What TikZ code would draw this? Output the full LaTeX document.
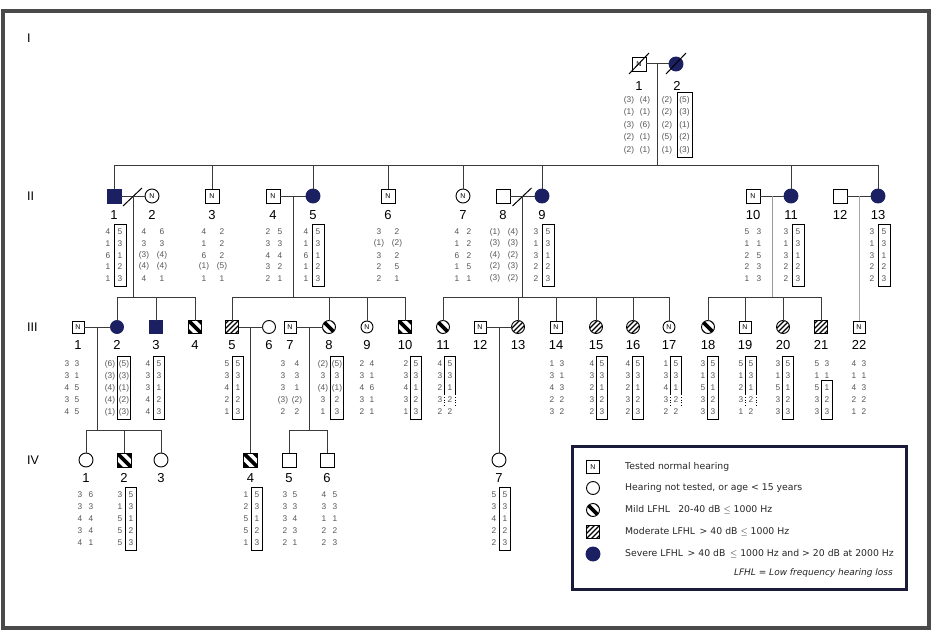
\documentclass[tikz,border=0pt]{standalone}
\usepackage{fontspec}
\setmainfont{Liberation Sans}
\newfontfamily\legfont{DejaVu Sans}
\usetikzlibrary{calc}
\definecolor{sevc}{HTML}{1B2062}
\definecolor{numc}{HTML}{555555}
\definecolor{linec}{HTML}{3A3A3A}
\definecolor{framec}{HTML}{4A4A4A}
\definecolor{legc}{HTML}{1A1A3A}
\newcommand\pp[1]{(#1)}
\newcommand\hdy{12}
% #1 name, #2 xl, #3 xr, #4 y0, #5 list
\newcommand\haplo[5]{%
  \foreach[count=\i] \a/\b in {#5}{%
    \node[num] (#1a\i) at (#2,{#4+(\i-1)*\hdy}) {\a};
    \node[num] (#1b\i) at (#3,{#4+(\i-1)*\hdy}) {\b};}}
% #1 name, #2 first row, #3 last row, #4 half width
\newcommand\hapbox[4]{\draw[hbox] ($(#1b#2)+(-#4,-7.5)$) rectangle ($(#1b#3)+(#4,7.5)$);}
% open box, rows 1-3 solid, row 4 dotted
\newcommand\hapopen[2]{%
  \draw[hbox] ($(#1b3)+(-#2,6)$) -- ($(#1b1)+(-#2,-7.5)$) -- ($(#1b1)+(#2,-7.5)$) -- ($(#1b3)+(#2,6)$);
  \draw[hbox,dotted] ($(#1b3)+(-#2,6)$) -- ($(#1b4)+(-#2,6)$);
  \draw[hbox,dotted] ($(#1b3)+(#2,6)$) -- ($(#1b4)+(#2,6)$);}
\tikzset{
  sym/.style={draw=black, line width=0.9pt, inner sep=0pt, outer sep=0pt, font=\fontsize{7}{7}\selectfont},
  sq/.style={sym, rectangle, minimum size=#1}, sq/.default=14,
  ci/.style={sym, circle, minimum size=#1}, ci/.default=14,
  sev/.style={fill=sevc, draw=sevc},
  mild/.style={path picture={\begin{scope}[shift={(path picture bounding box.center)}]
      \foreach \o/\w in {0/3.6,5.5/4,-5.5/4} \draw[line width=\w pt] (-12+\o,-12-\o) -- (12+\o,12-\o);
    \end{scope}}},
  mod/.style={path picture={\begin{scope}[shift={(path picture bounding box.center)}]
      \foreach \o in {-10,-7.5,...,10} \draw[line width=1.3pt] (-12+\o,12+\o) -- (12+\o,-12+\o);
    \end{scope}}},
  lab/.style={font=\fontsize{13}{13}\selectfont, inner sep=0pt},
  gen/.style={font=\fontsize{12.5}{12.5}\selectfont, inner sep=0pt, anchor=west},
  num/.style={font=\fontsize{8.3}{8.3}\selectfont, text=numc, inner sep=0pt},
  conn/.style={draw=linec, line width=1pt},
  hbox/.style={draw=black, line width=0.8pt},
  leg/.style={font=\legfont\fontsize{9.3}{10}\selectfont, text=black!85, inner sep=0pt, anchor=west},
}
\begin{document}
\begin{tikzpicture}[x=1pt,y=-1pt]
\useasboundingbox (0,0) rectangle (932,634);
\fill[white] (0,0) rectangle (932,634);
\draw[framec,line width=4pt] (3,11) rectangle (929,628);

% generation labels
\node[gen] (gI) at (27,38) {I};
\node[gen] (gII) at (27,196) {II};
\node[gen] (gIII) at (27,327) {III};
\node[gen] (gIV) at (27,460) {IV};

% level coordinates
\coordinate (s2) at (0,165);
\coordinate (s3) at (0,297);
\coordinate (s4) at (0,430);

% ---------------- Generation I
\node[sq] (I1) at (639,64) {N};
\node[ci,sev] (I2) at (676,64) {};
\draw[line width=1pt] ($(I1)+(-10,10)$) -- ($(I1)+(10,-11)$);
\draw[line width=1pt] ($(I2)+(-10,10)$) -- ($(I2)+(10,-11)$);
\draw[conn] (I1) -- (I2);
\coordinate (dI) at ($(I1)!0.5!(I2)$);
\draw[conn] (dI) -- (dI |- s2);
\node[lab] (lI1) at (639,86) {1};
\node[lab] (lI2) at (677,86) {2};
\renewcommand\hdy{12.5}
\haplo{hIa}{629}{645}{100}{\pp3/\pp4,\pp1/\pp1,\pp3/\pp6,\pp2/\pp1,\pp2/\pp1}
\haplo{hIb}{667}{684.5}{100}{\pp2/\pp5,\pp2/\pp3,\pp2/\pp1,\pp5/\pp2,\pp1/\pp3}
\hapbox{hIb}{1}{5}{7.5}

% ---------------- Generation II
\node[sq,sev] (II1) at (114,196) {};
\node[ci] (II2) at (152,196) {N};
\node[sq] (II3) at (212,196) {N};
\node[sq] (II4) at (273,196) {N};
\node[ci,sev] (II5) at (313,196) {};
\node[sq] (II6) at (388,196) {N};
\node[ci] (II7) at (463,196) {N};
\node[sq] (II8) at (503,196) {};
\node[ci,sev] (II9) at (542,196) {};
\node[sq] (II10) at (753,196) {N};
\node[ci,sev] (II11) at (791,196) {};
\node[sq] (II12) at (840,196) {};
\node[ci,sev] (II13) at (878,196) {};
\draw[conn] (II1 |- s2) -- (II13 |- s2);
\foreach \n in {II1,II3,II5,II6,II7,II9,II11,II13} \draw[conn] (\n |- s2) -- (\n.north);
\foreach \n/\t in {1/1,2/2,3/3,4/4,5/5,6/6,7/7,8/8,9/9,10/10,11/11,12/12,13/13}
  \node[lab] (lII\n) at ($(II\n)+(0,19)$) {\t};
% couples and descents
\draw[conn] (II1) -- (II2);
\coordinate (dIIa) at ($(II1)!0.5!(II2)$);
\draw[line width=1pt] ($(dIIa)+(-10,10)$) -- ($(dIIa)+(9,-8)$);
\draw[conn] (II4) -- (II5);
\coordinate (dIIb) at ($(II4)!0.5!(II5)$);
\draw[conn] (II8) -- (II9);
\coordinate (dIIc) at ($(II8)!0.5!(II9)$);
\draw[line width=1pt] ($(dIIc)+(-10,10)$) -- ($(dIIc)+(9,-8)$);
\draw[conn] (II10) -- (II11);
\coordinate (dIId) at ($(II10)!0.5!(II11)$);
\draw[conn] (II12) -- (II13);
\coordinate (dIIe) at ($(II12)!0.5!(II13)$);
\foreach \d in {dIIa,dIIb,dIIc} \draw[conn] (\d) -- (\d |- s3);
\draw[draw=gray!80,line width=1pt] (dIId) -- (dIId |- s3);

\renewcommand\hdy{11.6}
\haplo{hII1}{108}{120}{232}{4/5,1/3,6/1,1/2,1/3}
\hapbox{hII1}{1}{5}{6}
\haplo{hII2}{144}{162}{232}{4/6,3/3,\pp3/\pp4,\pp4/\pp4,4/1}
\haplo{hII3}{204}{222}{232}{4/2,1/2,6/2,\pp1/\pp5,1/1}
\haplo{hII4}{268}{280}{232}{2/5,3/3,4/4,3/2,2/1}
\haplo{hII5}{306}{318}{232}{4/5,1/3,6/1,1/2,1/3}
\hapbox{hII5}{1}{5}{6}
\haplo{hII6}{379}{397}{232}{3/2,\pp1/\pp2,3/2,2/5,2/1}
\haplo{hII7}{457}{469}{232}{4/2,1/2,6/2,1/5,1/1}
\haplo{hII8}{495}{513}{232}{\pp1/\pp4,\pp3/\pp3,\pp4/\pp2,\pp2/\pp3,\pp3/\pp2}
\haplo{hII9}{536}{548}{232}{3/5,1/3,3/1,2/2,2/3}
\hapbox{hII9}{1}{5}{6}
\haplo{hII10}{747}{759}{232}{5/3,1/1,2/5,2/3,1/3}
\haplo{hII11}{786}{798}{232}{3/5,1/3,3/1,2/2,2/3}
\hapbox{hII11}{1}{5}{6}
\haplo{hII13}{872}{884}{232}{3/5,1/3,3/1,2/2,2/3}
\hapbox{hII13}{1}{5}{6}

% ---------------- Generation III
\node[sq=12] (III1) at (78,327) {N};
\node[ci=13,sev] (III2) at (117,327) {};
\node[sq=13,sev] (III3) at (156,327) {};
\node[sq=13,mild] (III4) at (195,327) {};
\node[sq=13,mod] (III5) at (232,327) {};
\node[ci=13] (III6) at (269,327) {};
\node[sq=12] (III7) at (290,327) {N};
\node[ci=13,mild] (III8) at (329,327) {};
\node[ci=12] (III9) at (367,327) {N};
\node[sq=13,mild] (III10) at (405,327) {};
\node[ci=13,mild] (III11) at (443,327) {};
\node[sq=12] (III12) at (480,327) {N};
\node[ci=13,mod] (III13) at (518,327) {};
\node[sq=12] (III14) at (556,327) {N};
\node[ci=13,mod] (III15) at (596,327) {};
\node[ci=13,mod] (III16) at (633,327) {};
\node[ci=12] (III17) at (669,327) {N};
\node[ci=13,mild] (III18) at (708,327) {};
\node[sq=12] (III19) at (745,327) {N};
\node[ci=13,mod] (III20) at (783,327) {};
\node[sq=13,mod] (III21) at (821,327) {};
\node[sq=12] (III22) at (859,327) {N};
\foreach \n in {1,...,22} \node[lab] (lIII\n) at ($(III\n)+(0,18)$) {\n};
% sibships of generation III
\draw[conn] (III2 |- s3) -- (III4 |- s3);
\foreach \n in {III2,III3,III4} \draw[conn] (\n |- s3) -- (\n.north);
\draw[conn] (III5 |- s3) -- (III10 |- s3);
\foreach \n in {III5,III8,III9,III10} \draw[conn] (\n |- s3) -- (\n.north);
\draw[conn] (III11 |- s3) -- (III17 |- s3);
\foreach \n in {III11,III13,III14,III15,III16,III17} \draw[conn] (\n |- s3) -- (\n.north);
\draw[conn] (III18 |- s3) -- (III21 |- s3);
\foreach \n in {III18,III19,III20,III21} \draw[conn] (\n |- s3) -- (\n.north);
\draw[draw=gray!70,line width=1pt] (dIIe) -- (III22.north);
% couples of generation III
\draw[conn] (III1) -- (III2);
\coordinate (dIIIa) at ($(III1)!0.5!(III2)$);
\draw[conn] (III5) -- (III6);
\coordinate (dIIIb) at ($(III5)!0.5!(III6)$);
\draw[conn] (III7) -- (III8);
\coordinate (dIIIc) at ($(III7)!0.5!(III8)$);
\draw[conn] (III12) -- (III13);
\coordinate (dIIId) at ($(III12)!0.5!(III13)$);

\renewcommand\hdy{12}
\haplo{hIII1}{67}{77}{364}{3/3,3/1,4/5,3/5,4/5}
\haplo{hIII2}{110}{124}{364}{\pp6/\pp5,\pp3/\pp3,\pp4/\pp1,\pp4/\pp2,\pp1/\pp3}
\hapbox{hIII2}{1}{5}{6.5}
\haplo{hIII3}{148}{159}{364}{4/5,3/3,3/1,4/2,4/3}
\hapbox{hIII3}{1}{5}{5.5}
\haplo{hIII5}{227}{238}{364}{5/5,3/3,4/1,2/2,1/3}
\hapbox{hIII5}{1}{5}{5.5}
\haplo{hIII7}{283}{297}{364}{3/4,3/3,3/1,\pp3/\pp2,2/2}
\haplo{hIII8}{323}{337}{364}{\pp2/\pp5,3/3,\pp4/\pp1,3/2,1/3}
\hapbox{hIII8}{1}{5}{6.5}
\haplo{hIII9}{362}{372}{364}{2/4,3/1,4/6,3/1,2/1}
\haplo{hIII10}{406}{416}{364}{2/5,3/3,4/1,3/2,1/3}
\hapbox{hIII10}{1}{5}{5.5}
\haplo{hIII11}{440}{450}{364}{4/5,3/3,2/1,3/2,2/2}
\hapopen{hIII11}{5.5}
\haplo{hIII14}{552}{562}{364}{1/3,3/1,4/3,2/2,3/2}
\haplo{hIII15}{592}{602}{364}{4/5,3/3,2/1,3/2,2/3}
\hapbox{hIII15}{1}{5}{5.5}
\haplo{hIII16}{628}{638}{364}{4/5,3/3,2/1,3/2,2/3}
\hapbox{hIII16}{1}{5}{5.5}
\haplo{hIII17}{666}{676}{364}{1/5,3/3,4/1,3/2,2/2}
\hapopen{hIII17}{5.5}
\haplo{hIII18}{703}{713}{364}{3/5,1/3,5/1,3/2,3/3}
\hapbox{hIII18}{1}{5}{5.5}
\haplo{hIII19}{741}{751}{364}{5/5,1/3,2/1,3/2,1/2}
\hapopen{hIII19}{5.5}
\haplo{hIII20}{778}{788}{364}{3/5,1/3,5/1,3/2,3/3}
\hapbox{hIII20}{1}{5}{5.5}
\haplo{hIII21}{817}{827}{364}{5/3,1/1,5/1,3/2,3/3}
\hapbox{hIII21}{3}{5}{5.5}
\haplo{hIII22}{854}{864}{364}{4/3,1/1,4/3,2/2,1/2}

% ---------------- Generation IV
\node[ci] (IV1) at (86,460) {};
\node[sq,mild] (IV2) at (124,460) {};
\node[ci] (IV3) at (161,460) {};
\node[sq,mild] (IV4) at (250.5,460) {};
\node[sq] (IV5) at (289,460) {};
\node[sq] (IV6) at (327,460) {};
\node[ci] (IV7) at (499,460) {};
\foreach \n in {1,...,7} \node[lab] (lIV\n) at ($(IV\n)+(0,18)$) {\n};
\draw[conn] (dIIIa) -- (dIIIa |- s4);
\draw[conn] (IV1 |- s4) -- (IV3 |- s4);
\foreach \n in {IV1,IV2,IV3} \draw[conn] (\n |- s4) -- (\n.north);
\draw[conn] (dIIIb) -- (IV4.north);
\draw[conn] (dIIIc) -- (dIIIc |- s4);
\draw[conn] (IV5 |- s4) -- (IV6 |- s4);
\foreach \n in {IV5,IV6} \draw[conn] (\n |- s4) -- (\n.north);
\draw[conn] (dIIId) -- (IV7.north);

\haplo{hIV1}{80}{91}{495}{3/6,3/3,4/4,3/4,4/1}
\haplo{hIV2}{120}{131}{495}{3/5,1/3,5/1,5/2,5/3}
\hapbox{hIV2}{1}{5}{5.5}
\haplo{hIV4}{246}{257}{495}{1/5,2/3,5/1,5/2,1/3}
\hapbox{hIV4}{1}{5}{5.5}
\haplo{hIV5}{285}{295}{495}{3/5,3/3,3/4,2/3,2/1}
\haplo{hIV6}{324}{335}{495}{4/5,3/3,1/1,2/2,2/3}
\haplo{hIV7}{494}{505}{495}{5/5,3/3,4/1,2/2,2/3}
\hapbox{hIV7}{1}{5}{5.5}

% ---------------- Legend
\node[draw=legc, line width=2.6pt, minimum width=334pt, minimum height=143pt, inner sep=0pt, anchor=north west] (legend) at (571,445) {};
\node[sq=13] (L1) at (593,467) {N};
\node[ci=13] (L2) at (593,488) {};
\node[ci=13,mild] (L3) at (593,510) {};
\node[sq=13,mod] (L4) at (593,532) {};
\node[ci=14,sev] (L5) at (593,554) {};
\node[leg] (T1) at (625,467) {Tested normal hearing};
\node[leg] (T2) at (625,488) {Hearing not tested, or age < 15 years};
\node[leg] (T3) at (625,510) {Mild LFHL\hspace{0.9em}20-40 dB $\leq$ 1000 Hz};
\node[leg] (T4) at (625,532) {Moderate LFHL\hspace{0.5em}> 40 dB $\leq$ 1000 Hz};
\node[leg] (T5) at (625,554) {Severe LFHL\hspace{0.5em}> 40 dB\hspace{0.5em}$\leq$ 1000 Hz and > 20 dB at 2000 Hz};
\node[leg, anchor=east, font=\legfont\itshape\fontsize{9}{10}\selectfont] (T6) at (893,573) {LFHL = Low frequency hearing loss};
\end{tikzpicture}
\end{document}
